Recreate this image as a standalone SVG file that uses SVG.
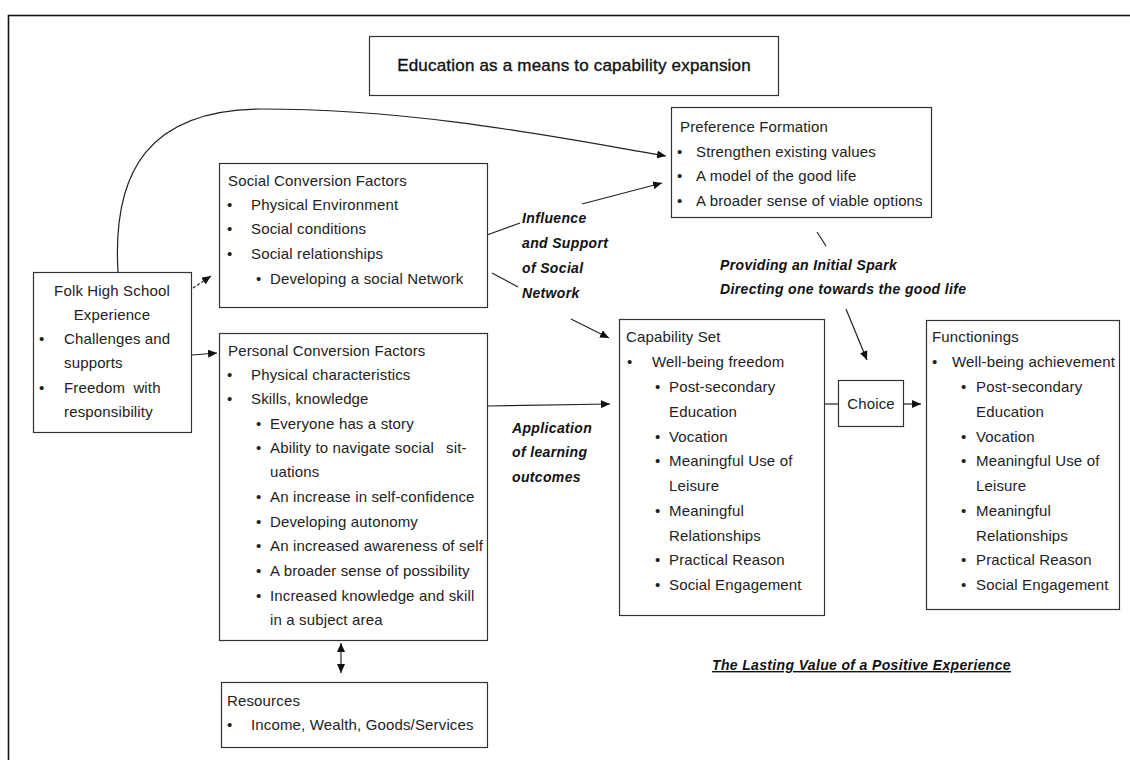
<svg xmlns="http://www.w3.org/2000/svg" width="1130" height="760" viewBox="0 0 1130 760">
  <style>
    .box { fill: #ffffff; stroke: #333333; stroke-width: 1.2; }
    .t { font-family: "Liberation Sans", Arial, sans-serif; font-size: 15px; letter-spacing: 0.15px; fill: #222222; }
    .title { font-family: "Liberation Sans", Arial, sans-serif; font-size: 17px; letter-spacing: 0.2px; fill: #111111; stroke: #111111; stroke-width: 0.35; }
    .lbl { font-family: "Liberation Sans", Arial, sans-serif; font-size: 14px; font-weight: bold; font-style: italic; letter-spacing: 0.35px; fill: #111111; }
    .c { text-anchor: middle; }
    .edge { fill: none; stroke: #222222; stroke-width: 1.2; }
  </style>
  <defs>
    <marker id="arrow" markerUnits="userSpaceOnUse" markerWidth="10" markerHeight="8" refX="9" refY="4" orient="auto-start-reverse">
      <path d="M0,0 L9,4 L0,8 z" fill="#111111"/>
    </marker>
  </defs>

  <rect width="1130" height="760" fill="#ffffff"/>
  <!-- page frame -->
  <rect x="8.5" y="15.5" width="1200" height="800" fill="none" stroke="#111111" stroke-width="1.6"/>

  <g id="title">
    <rect class="box" x="369.5" y="36.5" width="409" height="59"/>
    <text class="title c" x="574" y="71">Education as a means to capability expansion</text>
  </g>

  <g id="connectors">
    <path class="edge" d="M118,272 C112,170 150,110 260,109 C420,109 560,138 666,156" marker-end="url(#arrow)"/>
    <path class="edge" d="M193,288 L211,276" stroke-dasharray="3,2" marker-end="url(#arrow)"/>
    <path class="edge" d="M192,355 L217,353" marker-end="url(#arrow)"/>
    <path class="edge" d="M487,235 L520,223"/>
    <path class="edge" d="M492,273 L518,287"/>
    <path class="edge" d="M582,204 L662,183" marker-end="url(#arrow)"/>
    <path class="edge" d="M571,319 L609,338" marker-end="url(#arrow)"/>
    <path class="edge" d="M487,406 L610,404" marker-end="url(#arrow)"/>
    <path class="edge" d="M817,232 L826,246"/>
    <path class="edge" d="M846,309 L867,360" marker-end="url(#arrow)"/>
    <path class="edge" d="M824,404 L838,404"/>
    <path class="edge" d="M903,404 L921,404" marker-end="url(#arrow)"/>
    <path class="edge" d="M341,643 L341,673" marker-start="url(#arrow)" marker-end="url(#arrow)"/>
  </g>

  <g id="folk-high-school">
    <rect class="box" x="33.5" y="272.5" width="158" height="160"/>
    <text class="t c" x="112" y="296">Folk High School</text>
    <text class="t c" x="112" y="320">Experience</text>
    <text class="t" x="39" y="344">•</text>
    <text class="t" x="64" y="344">Challenges and</text>
    <text class="t" x="64" y="368">supports</text>
    <text class="t" x="39" y="393">•</text>
    <text class="t" x="64" y="393" word-spacing="4">Freedom with</text>
    <text class="t" x="64" y="417">responsibility</text>
  </g>

  <g id="social-conversion">
    <rect class="box" x="219.5" y="163.5" width="268" height="144"/>
    <text class="t" x="228" y="186">Social Conversion Factors</text>
    <text class="t" x="227" y="210">•</text>
    <text class="t" x="251" y="210">Physical Environment</text>
    <text class="t" x="227" y="234">•</text>
    <text class="t" x="251" y="234">Social conditions</text>
    <text class="t" x="227" y="259">•</text>
    <text class="t" x="251" y="259">Social relationships</text>
    <text class="t" x="256" y="284">•</text>
    <text class="t" x="270" y="284">Developing a social Network</text>
  </g>

  <g id="personal-conversion">
    <rect class="box" x="219.5" y="333.5" width="268" height="307"/>
    <text class="t" x="228" y="356">Personal Conversion Factors</text>
    <text class="t" x="227" y="380">•</text>
    <text class="t" x="251" y="380">Physical characteristics</text>
    <text class="t" x="227" y="404">•</text>
    <text class="t" x="251" y="404">Skills, knowledge</text>
    <text class="t" x="256" y="429">•</text>
    <text class="t" x="270" y="429">Everyone has a story</text>
    <text class="t" x="256" y="453">•</text>
    <text class="t" x="270" y="453">Ability to navigate social<tspan x="446">sit-</tspan></text>
    <text class="t" x="270" y="477">uations</text>
    <text class="t" x="256" y="502">•</text>
    <text class="t" x="270" y="502">An increase in self-confidence</text>
    <text class="t" x="256" y="527">•</text>
    <text class="t" x="270" y="527">Developing autonomy</text>
    <text class="t" x="256" y="551">•</text>
    <text class="t" x="270" y="551">An increased awareness of self</text>
    <text class="t" x="256" y="576">•</text>
    <text class="t" x="270" y="576">A broader sense of possibility</text>
    <text class="t" x="256" y="601">•</text>
    <text class="t" x="270" y="601">Increased knowledge and skill</text>
    <text class="t" x="270" y="625">in a subject area</text>
  </g>

  <g id="resources">
    <rect class="box" x="221.5" y="682.5" width="266" height="65"/>
    <text class="t" x="227" y="706">Resources</text>
    <text class="t" x="227" y="730">•</text>
    <text class="t" x="251" y="730">Income, Wealth, Goods/Services</text>
  </g>

  <g id="preference-formation">
    <rect class="box" x="671.5" y="107.5" width="260" height="110"/>
    <text class="t" x="680" y="132">Preference Formation</text>
    <text class="t" x="677" y="157">•</text>
    <text class="t" x="696" y="157">Strengthen existing values</text>
    <text class="t" x="677" y="181">•</text>
    <text class="t" x="696" y="181">A model of the good life</text>
    <text class="t" x="677" y="206">•</text>
    <text class="t" x="696" y="206">A broader sense of viable options</text>
  </g>

  <g id="capability-set">
    <rect class="box" x="619.5" y="319.5" width="205" height="296"/>
    <text class="t" x="626" y="342">Capability Set</text>
    <text class="t" x="627" y="367">•</text>
    <text class="t" x="652" y="367">Well-being freedom</text>
    <text class="t" x="655" y="392">•</text>
    <text class="t" x="669" y="392">Post-secondary</text>
    <text class="t" x="669" y="417">Education</text>
    <text class="t" x="655" y="442">•</text>
    <text class="t" x="669" y="442">Vocation</text>
    <text class="t" x="655" y="466">•</text>
    <text class="t" x="669" y="466">Meaningful Use of</text>
    <text class="t" x="669" y="491">Leisure</text>
    <text class="t" x="655" y="516">•</text>
    <text class="t" x="669" y="516">Meaningful</text>
    <text class="t" x="669" y="541">Relationships</text>
    <text class="t" x="655" y="565">•</text>
    <text class="t" x="669" y="565">Practical Reason</text>
    <text class="t" x="655" y="590">•</text>
    <text class="t" x="669" y="590">Social Engagement</text>
  </g>

  <g id="choice">
    <rect class="box" x="838.5" y="380.5" width="65" height="46"/>
    <text class="t c" x="871" y="409">Choice</text>
  </g>

  <g id="functionings">
    <rect class="box" x="926.5" y="320.5" width="193" height="289"/>
    <text class="t" x="932" y="342">Functionings</text>
    <text class="t" x="932" y="367">•</text>
    <text class="t" x="952" y="367">Well-being achievement</text>
    <text class="t" x="961" y="392">•</text>
    <text class="t" x="976" y="392">Post-secondary</text>
    <text class="t" x="976" y="417">Education</text>
    <text class="t" x="961" y="442">•</text>
    <text class="t" x="976" y="442">Vocation</text>
    <text class="t" x="961" y="466">•</text>
    <text class="t" x="976" y="466">Meaningful Use of</text>
    <text class="t" x="976" y="491">Leisure</text>
    <text class="t" x="961" y="516">•</text>
    <text class="t" x="976" y="516">Meaningful</text>
    <text class="t" x="976" y="541">Relationships</text>
    <text class="t" x="961" y="565">•</text>
    <text class="t" x="976" y="565">Practical Reason</text>
    <text class="t" x="961" y="590">•</text>
    <text class="t" x="976" y="590">Social Engagement</text>
  </g>

  <g id="labels">
    <text class="lbl" x="522" y="223">Influence</text>
    <text class="lbl" x="522" y="248">and Support</text>
    <text class="lbl" x="522" y="273">of Social</text>
    <text class="lbl" x="522" y="298">Network</text>
    <text class="lbl" x="720" y="270">Providing an Initial Spark</text>
    <text class="lbl" x="720" y="294">Directing one towards the good life</text>
    <text class="lbl" x="512" y="433">Application</text>
    <text class="lbl" x="512" y="457">of learning</text>
    <text class="lbl" x="512" y="482">outcomes</text>
    <text class="lbl" x="712" y="670" text-decoration="underline">The Lasting Value of a Positive Experience</text>
  </g>
</svg>
